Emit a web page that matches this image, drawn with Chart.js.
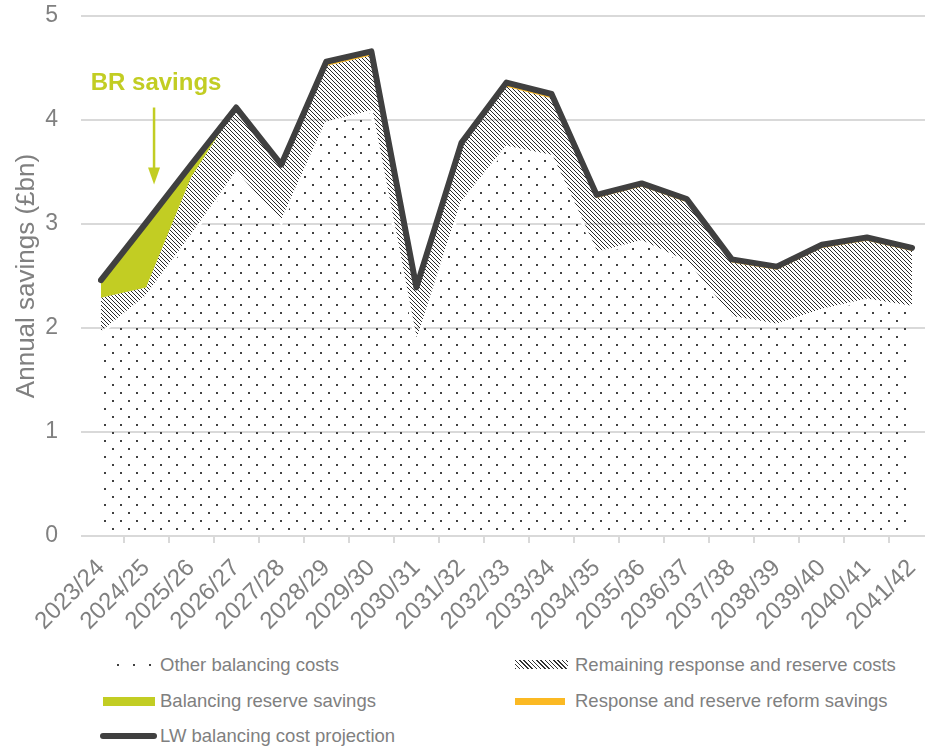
<!DOCTYPE html>
<html>
<head>
<meta charset="utf-8">
<script src="https://cdn.jsdelivr.net/npm/chart.js@4.4.1/dist/chart.umd.min.js"></script>
<style>
    body { margin: 0; background: #fff; font-family: 'Liberation Sans', Arial, sans-serif; }
    #wrap { position: relative; width: 925px; height: 747px; }
    #chartBox { position: absolute; left: 0; top: 0; width: 925px; height: 650px; }
    .legend-item { position: absolute; height: 24px; display: flex; align-items: center; color: #808080; font-size: 18.5px; white-space: nowrap; }
    .legend-item .sw { position: absolute; }
</style>
</head>
<body>
<div id="wrap">
    <div id="chartBox"><canvas id="savingsChart"></canvas></div>
    <div id="legend"></div>
</div>
<script>
const years = [
    '2023/24', '2024/25', '2025/26', '2026/27', '2027/28', '2028/29', '2029/30',
    '2030/31', '2031/32', '2032/33', '2033/34', '2034/35', '2035/36', '2036/37',
    '2037/38', '2038/39', '2039/40', '2040/41', '2041/42'
];

// £bn
const otherBalancingCosts = [1.95, 2.30, 2.88, 3.49, 3.01, 3.97, 4.08, 1.85, 3.20, 3.74, 3.65, 2.72, 2.83, 2.63, 2.10, 2.03, 2.17, 2.27, 2.20];
const remainingResponseReserve = [0.34, 0.09, 0.57, 0.63, 0.54, 0.55, 0.54, 0.52, 0.55, 0.58, 0.56, 0.53, 0.53, 0.58, 0.53, 0.53, 0.60, 0.57, 0.54];
const balancingReserveSavings = [0.17, 0.62, 0.12, 0, 0, 0, 0, 0, 0, 0, 0, 0, 0, 0, 0, 0, 0, 0, 0];
const reformSavings = [0, 0, 0, 0, 0.02, 0.04, 0.04, 0.02, 0.03, 0.04, 0.04, 0.03, 0.03, 0.03, 0.03, 0.03, 0.03, 0.03, 0.03];
const lwProjection = [2.46, 3.01, 3.57, 4.12, 3.57, 4.56, 4.66, 2.39, 3.78, 4.36, 4.25, 3.28, 3.39, 3.24, 2.66, 2.59, 2.80, 2.87, 2.77];

const yTicks = [0, 1, 2, 3, 4, 5];

const GREY_TEXT = '#808080';
const GRID = '#d9d9d9';
const DARK = '#404040';
const GREEN = '#c2cd23';
const ORANGE = '#fbb923';

Chart.defaults.font.family = "'Liberation Sans', Arial, sans-serif";

function dotPattern() {
    const c = document.createElement('canvas');
    c.width = 16; c.height = 16;
    const g = c.getContext('2d');
    g.fillStyle = DARK;
    g.fillRect(0, 0, 2, 2);
    g.fillRect(8, 8, 2, 2);
    return g.createPattern(c, 'repeat');
}

function hatchPattern() {
    const c = document.createElement('canvas');
    c.width = 4; c.height = 4;
    const g = c.getContext('2d');
    g.fillStyle = '#2a2a2a';
    for (let i = 0; i < 4; i++) g.fillRect(i, i, 1, 1);
    return g.createPattern(c, 'repeat');
}

// light gridlines run on past the last point to the page edge
const gridRunout = {
    id: 'gridRunout',
    beforeDatasetsDraw(chart) {
        const {ctx, chartArea, scales: {y}} = chart;
        ctx.save();
        ctx.strokeStyle = GRID;
        ctx.lineWidth = 2;
        yTicks.forEach(v => {
            const py = y.getPixelForValue(v);
            ctx.beginPath();
            ctx.moveTo(chartArea.right, py);
            ctx.lineTo(chart.width, py);
            ctx.stroke();
        });
        ctx.restore();
    }
};

const brNote = {
    id: 'brNote',
    afterDatasetsDraw(chart) {
        const {ctx, scales: {x, y}} = chart;
        const ax = x.getPixelForValue(1) + 8;
        const top = y.getPixelForValue(4.12);
        const tip = y.getPixelForValue(3.38);
        ctx.save();
        ctx.fillStyle = GREEN;
        ctx.strokeStyle = GREEN;
        ctx.font = "bold 24px 'Liberation Sans', Arial, sans-serif";
        ctx.textAlign = 'center';
        ctx.textBaseline = 'alphabetic';
        ctx.fillText('BR savings', ax + 2, y.getPixelForValue(4.29));
        ctx.lineWidth = 2.5;
        ctx.beginPath();
        ctx.moveTo(ax, top);
        ctx.lineTo(ax, tip - 12);
        ctx.stroke();
        ctx.beginPath();
        ctx.moveTo(ax - 6, tip - 17);
        ctx.lineTo(ax + 6, tip - 17);
        ctx.lineTo(ax, tip);
        ctx.closePath();
        ctx.fill();
        ctx.restore();
    }
};

function buildChart() {
    const ctx = document.getElementById('savingsChart');

    return new Chart(ctx, {
        type: 'line',
        data: {
            labels: years,
            datasets: [{
                label: 'Other balancing costs',
                data: otherBalancingCosts,
                backgroundColor: dotPattern(),
                borderColor: '#fff',
                borderWidth: 3,
                fill: 'origin',
                order: 1
            }, {
                label: 'Remaining response and reserve costs',
                data: remainingResponseReserve,
                backgroundColor: hatchPattern(),
                borderWidth: 0,
                fill: '-1',
                order: 1
            }, {
                label: 'Balancing reserve savings',
                data: balancingReserveSavings,
                backgroundColor: GREEN,
                borderWidth: 0,
                fill: '-1',
                order: 1
            }, {
                label: 'Response and reserve reform savings',
                data: reformSavings,
                backgroundColor: ORANGE,
                borderWidth: 0,
                fill: '-1',
                order: 1
            }, {
                label: 'LW balancing cost projection',
                data: lwProjection,
                stack: 'projection',
                borderColor: DARK,
                borderWidth: 6,
                borderJoinStyle: 'round',
                borderCapStyle: 'round',
                fill: false,
                order: 0
            }]
        },
        options: {
            responsive: true,
            maintainAspectRatio: false,
            animation: false,
            layout: { padding: { top: 16, right: 13, left: 0, bottom: 0 } },
            elements: { point: { radius: 0 }, line: { tension: 0 } },
            plugins: {
                legend: { display: false },
                tooltip: { enabled: false }
            },
            scales: {
                x: {
                    offset: false,
                    grid: { offset: true, drawOnChartArea: false, color: GRID, lineWidth: 2, tickLength: 7 },
                    border: { color: GRID, width: 2 },
                    ticks: {
                        color: GREY_TEXT,
                        font: { size: 24 },
                        minRotation: 45,
                        maxRotation: 45,
                        autoSkip: false,
                        padding: 11
                    },
                    afterFit: (scale) => {
                        scale.height = 114;
                        scale.paddingLeft = 0;
                        scale.paddingRight = 0;
                    }
                },
                y: {
                    stacked: true,
                    min: 0,
                    max: 5,
                    afterBuildTicks: (scale) => { scale.ticks = yTicks.map(v => ({ value: v })); },
                    ticks: { color: GREY_TEXT, font: { size: 23 }, padding: 23 },
                    grid: { color: GRID, lineWidth: 2, tickLength: 20 },
                    border: { display: false },
                    title: {
                        display: true,
                        text: 'Annual savings (£bn)',
                        color: GREY_TEXT,
                        font: { size: 26 },
                        padding: { top: 11, bottom: 0 }
                    },
                    afterFit: (scale) => {
                        scale.width = 101;
                        scale.paddingTop = 0;
                        scale.paddingBottom = 0;
                    }
                }
            }
        },
        plugins: [gridRunout, brNote]
    });
}

const legendItems = [
    { text: 'Other balancing costs', kind: 'dots', left: 160, top: 653 },
    { text: 'Remaining response and reserve costs', kind: 'hatch', left: 575, top: 653 },
    { text: 'Balancing reserve savings', kind: 'green', left: 160, top: 689 },
    { text: 'Response and reserve reform savings', kind: 'orange', left: 575, top: 689 },
    { text: 'LW balancing cost projection', kind: 'line', left: 160, top: 724 }
];

function buildLegend() {
    const box = document.getElementById('legend');
    legendItems.forEach(item => {
        const el = document.createElement('div');
        el.className = 'legend-item';
        el.style.left = item.left + 'px';
        el.style.top = item.top + 'px';
        el.textContent = item.text;

        const sw = document.createElement('div');
        sw.className = 'sw';
        if (item.kind === 'dots') {
            [-43, -27, -11].forEach(dx => {
                const d = document.createElement('div');
                d.style.cssText = `position:absolute;left:${dx}px;top:11px;width:2px;height:2px;background:${DARK}`;
                el.appendChild(d);
            });
        } else if (item.kind === 'hatch') {
            sw.style.cssText = `left:-60px;top:7px;width:53px;height:9px;background:repeating-linear-gradient(45deg, #333 0 1px, transparent 1px 3px)`;
        } else if (item.kind === 'green') {
            sw.style.cssText = `left:-57px;top:8px;width:52px;height:9px;background:${GREEN}`;
        } else if (item.kind === 'orange') {
            sw.style.cssText = `left:-60px;top:9px;width:50px;height:7px;background:${ORANGE}`;
        } else {
            sw.style.cssText = `left:-60px;top:9px;width:57px;height:6px;border-radius:3px;background:${DARK}`;
        }
        if (item.kind !== 'dots') el.appendChild(sw);
        box.appendChild(el);
    });
}

document.addEventListener('DOMContentLoaded', () => {
    buildChart();
    buildLegend();
});
</script>
</body>
</html>
